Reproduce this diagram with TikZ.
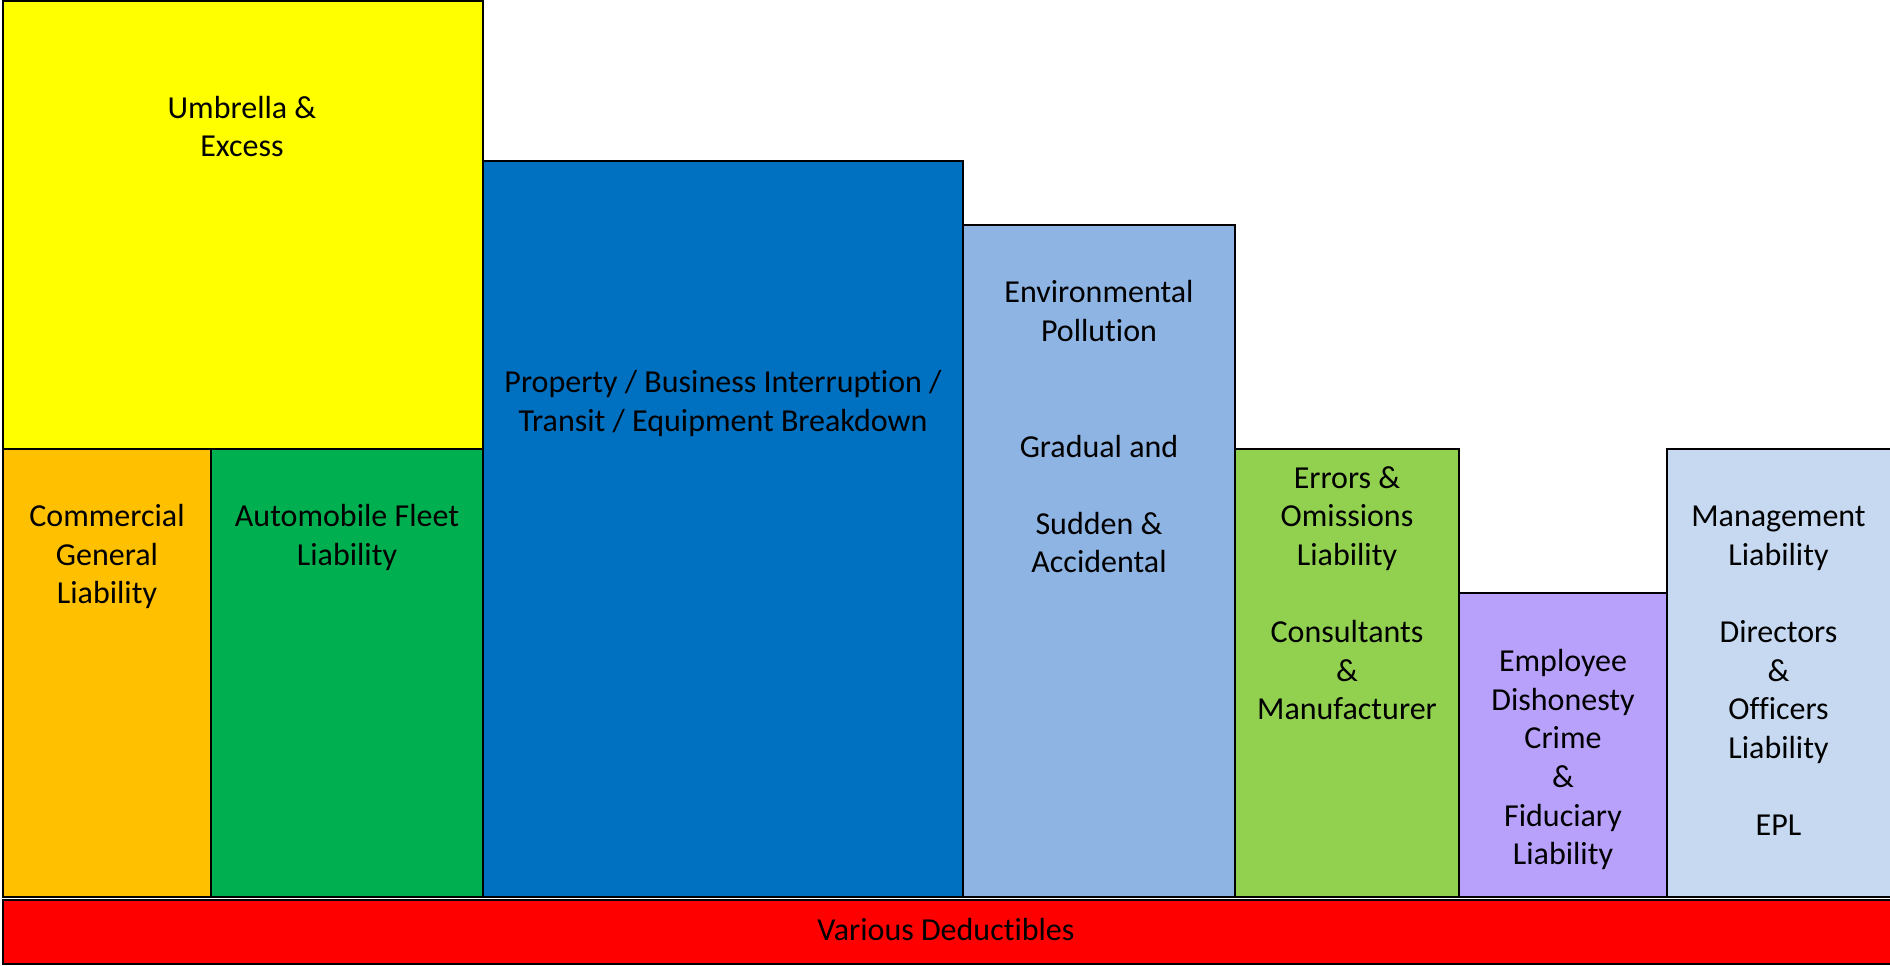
\documentclass[tikz,border=0pt]{standalone}
\usepackage{fontspec}
\setmainfont{Carlito}[Ligatures=NoCommon]
\definecolor{cyellow}{HTML}{FFFF00}
\definecolor{corange}{HTML}{FFC000}
\definecolor{cgreen}{HTML}{00B050}
\definecolor{cblue}{HTML}{0070C0}
\definecolor{cenv}{HTML}{8EB4E3}
\definecolor{clgreen}{HTML}{92D050}
\definecolor{cpurple}{HTML}{B7A1FA}
\definecolor{cmgmt}{HTML}{C6D9F1}
\definecolor{cred}{HTML}{FF0000}
\tikzset{
  box/.style={draw=black, line width=2.5pt},
  lbl/.style={anchor=north, align=center, inner sep=0pt, text=black,
    font={\fontsize{32}{38.6}\selectfont}},
}
\begin{document}
\begin{tikzpicture}[x=1pt,y=-1pt]
\useasboundingbox (0,0) rectangle (1890,966);
\clip (0,0) rectangle (1890,966);
% boxes
\draw[box, fill=cyellow] (3,1) rectangle (483,449);
\draw[box, fill=corange] (3,449) rectangle (211,897);
\draw[box, fill=cgreen] (211,449) rectangle (483,897);
\draw[box, fill=cblue] (483,161) rectangle (963,897);
\draw[box, fill=cenv] (963,225) rectangle (1235,897);
\draw[box, fill=clgreen] (1235,449) rectangle (1459,897);
\draw[box, fill=cpurple] (1459,593) rectangle (1667,897);
\draw[box, fill=cmgmt] (1667,449) rectangle (1895,897);
\draw[box, fill=cred] (3,900) rectangle (1895,964);
% labels
\node[lbl] (umb) at (242,91) {\strut Umbrella \&\\Excess};
\node[lbl] (cgl) at (107,499.5) {\strut Commercial\\General\\Liability};
\node[lbl] (afl) at (347,499.5) {\strut Automobile Fleet\\Liability};
\node[lbl] (prop) at (723,365.5) {\strut Property / Business Interruption /\\Transit / Equipment Breakdown};
\node[lbl] (env) at (1099,275.5) {\strut Environmental\\Pollution\\[77.2pt]Gradual and\\[38.6pt]Sudden \&\\Accidental};
\node[lbl] (eo) at (1347,461) {\strut Errors \&\\Omissions\\Liability\\[38.6pt]Consultants\\\&\\Manufacturer};
\node[lbl] (emp) at (1563,644.5) {\strut Employee\\Dishonesty\\Crime\\\&\\Fiduciary\\Liability};
\node[lbl] (mgmt) at (1778.5,499.5) {\strut Management\\Liability\\[38.6pt]Directors\\\&\\Officers\\Liability\\[38.6pt]EPL};
\node[lbl] (ded) at (946,913) {\strut Various Deductibles};
\end{tikzpicture}
\end{document}
